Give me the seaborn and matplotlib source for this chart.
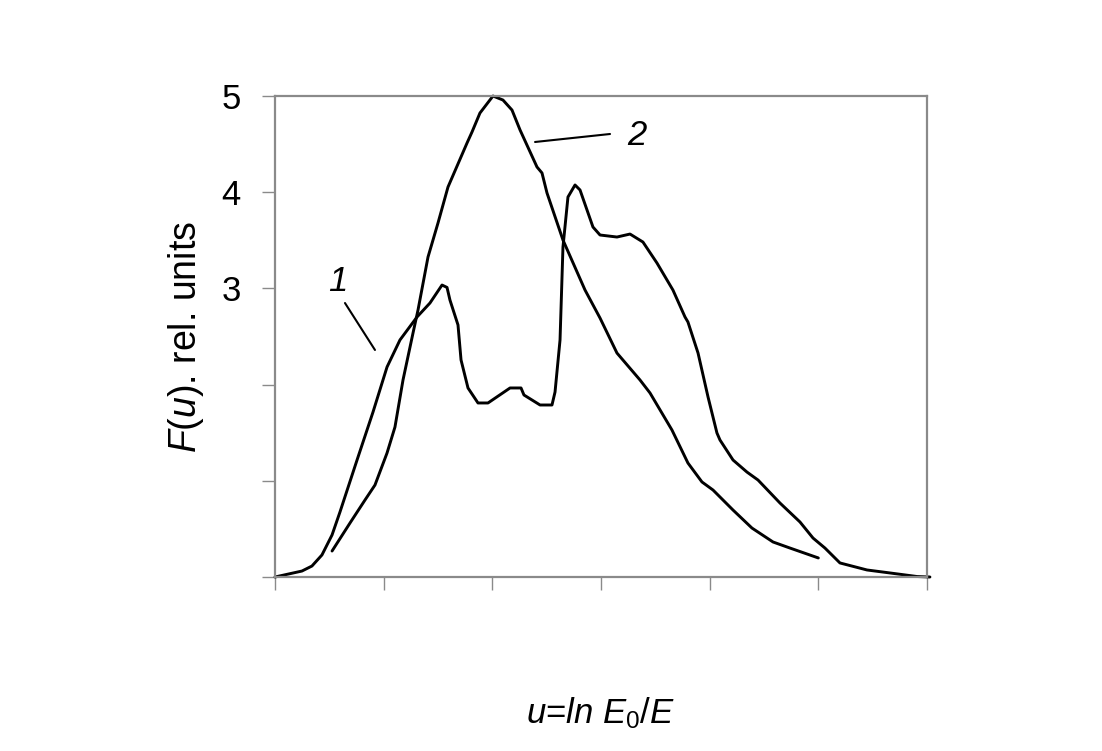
import matplotlib
matplotlib.use("Agg")
import matplotlib.pyplot as plt
import seaborn as sns
import pandas as pd

# ---- data ----
u1 = [0.0, 0.248, 0.340, 0.432, 0.525, 0.598, 0.755, 0.902, 1.031, 1.150, 1.307, 1.426,
      1.537, 1.583, 1.610, 1.684, 1.712, 1.776, 1.868, 1.960, 2.163, 2.264, 2.291, 2.439,
      2.549, 2.577, 2.623, 2.650, 2.696, 2.761, 2.807, 2.926, 2.991, 3.147, 3.267, 3.386,
      3.515, 3.662, 3.773, 3.800, 3.893, 3.985, 4.067, 4.095, 4.215, 4.343, 4.445, 4.647,
      4.831, 4.951, 5.061, 5.199, 5.448, 5.659, 5.908, 6.027]
f1 = [0.0, 0.062, 0.114, 0.229, 0.437, 0.676, 1.216, 1.715, 2.183, 2.464, 2.703, 2.848,
      3.035, 3.010, 2.879, 2.620, 2.256, 1.965, 1.809, 1.809, 1.965, 1.965, 1.892, 1.788,
      1.788, 1.923, 2.464, 3.430, 3.950, 4.075, 4.023, 3.638, 3.555, 3.534, 3.565, 3.482,
      3.264, 2.983, 2.703, 2.651, 2.328, 1.871, 1.497, 1.424, 1.216, 1.091, 1.008, 0.769,
      0.572, 0.405, 0.301, 0.146, 0.073, 0.042, 0.005, 0.0]

u2 = [0.525, 0.690, 0.828, 0.920, 1.031, 1.104, 1.178, 1.270, 1.316, 1.408, 1.500,
      1.592, 1.767, 1.813, 1.886, 2.006, 2.098, 2.181, 2.255, 2.411, 2.457, 2.503, 2.650,
      2.853, 2.991, 3.147, 3.359, 3.451, 3.653, 3.800, 3.929, 4.031, 4.215, 4.389, 4.583,
      4.739, 5.0]
f2 = [0.270, 0.561, 0.800, 0.956, 1.289, 1.559, 2.048, 2.536, 2.775, 3.326, 3.680,
      4.054, 4.511, 4.626, 4.823, 5.0, 4.958, 4.854, 4.647, 4.262, 4.200, 3.992, 3.503,
      2.983, 2.692, 2.328, 2.048, 1.913, 1.528, 1.185, 0.988, 0.904, 0.696, 0.509, 0.364,
      0.301, 0.198]

y_ticks = [0, 1, 2, 3, 4, 5]
y_tick_labels = ["", "", "", "3", "4", "5"]
x_ticks = [0, 1, 2, 3, 4, 5, 6]
curve_labels = ["1", "2"]

df = pd.concat([
    pd.DataFrame({"u": u1, "F": f1, "curve": "1"}),
    pd.DataFrame({"u": u2, "F": f2, "curve": "2"}),
], ignore_index=True)

sns.set_theme(style="white")
plt.rcParams["font.family"] = ["Liberation Sans", "DejaVu Sans"]
plt.rcParams["mathtext.fontset"] = "custom"
plt.rcParams["mathtext.rm"] = "Liberation Sans"
plt.rcParams["mathtext.it"] = "Liberation Sans:italic"
plt.rcParams["text.color"] = "black"
plt.rcParams["axes.labelcolor"] = "black"
plt.rcParams["ytick.labelcolor"] = "black"

fig = plt.figure(figsize=(11.02, 7.51), dpi=100)
fig.patch.set_facecolor("white")
ax = fig.add_axes([275 / 1102, 1 - 577 / 751, (927 - 275) / 1102, (577 - 96) / 751])

sns.lineplot(data=df, x="u", y="F", hue="curve", palette=["black", "black"],
             sort=False, estimator=None, linewidth=2.1, legend=False, ax=ax)
for line in ax.get_lines():
    line.set_clip_on(False)

ax.set_xlim(0, 6)
ax.set_ylim(0, 5)
ax.set_yticks(y_ticks)
ax.set_yticklabels(y_tick_labels, fontsize=25, color="black")
ax.set_xticks(x_ticks)
ax.set_xticklabels([""] * len(x_ticks))

for s in ax.spines.values():
    s.set_color("#8a8a8a")
    s.set_linewidth(1.6)
    s.set_visible(True)
ax.tick_params(axis="both", direction="out", length=9.5, width=1.0, color="#8a8a8a",
               left=True, bottom=True)
ax.tick_params(axis="y", pad=15)

# curve annotations
ax.plot([0.644, 0.920], [2.848, 2.360], color="black", lw=1.5)
ax.text(0.58, 3.07, curve_labels[0], fontsize=25, fontstyle="italic", color="black",
        ha="center", va="center")
ax.plot([2.393, 3.083], [4.522, 4.605], color="black", lw=1.5)
ax.text(3.33, 4.59, curve_labels[1], fontsize=25, fontstyle="italic", color="black",
        ha="center", va="center")

ax.set_ylabel(r"$F$($u$). rel. units", fontsize=27, color="black")
ax.yaxis.set_label_coords(-0.106, 0.5)
ax.set_xlabel(r"$u$=$ln$ $E_{\mathit{0}}$/$E$", fontsize=25, color="black")
ax.xaxis.set_label_coords(0.5, -0.245)

fig.savefig("out.png", dpi=100, facecolor="white")
